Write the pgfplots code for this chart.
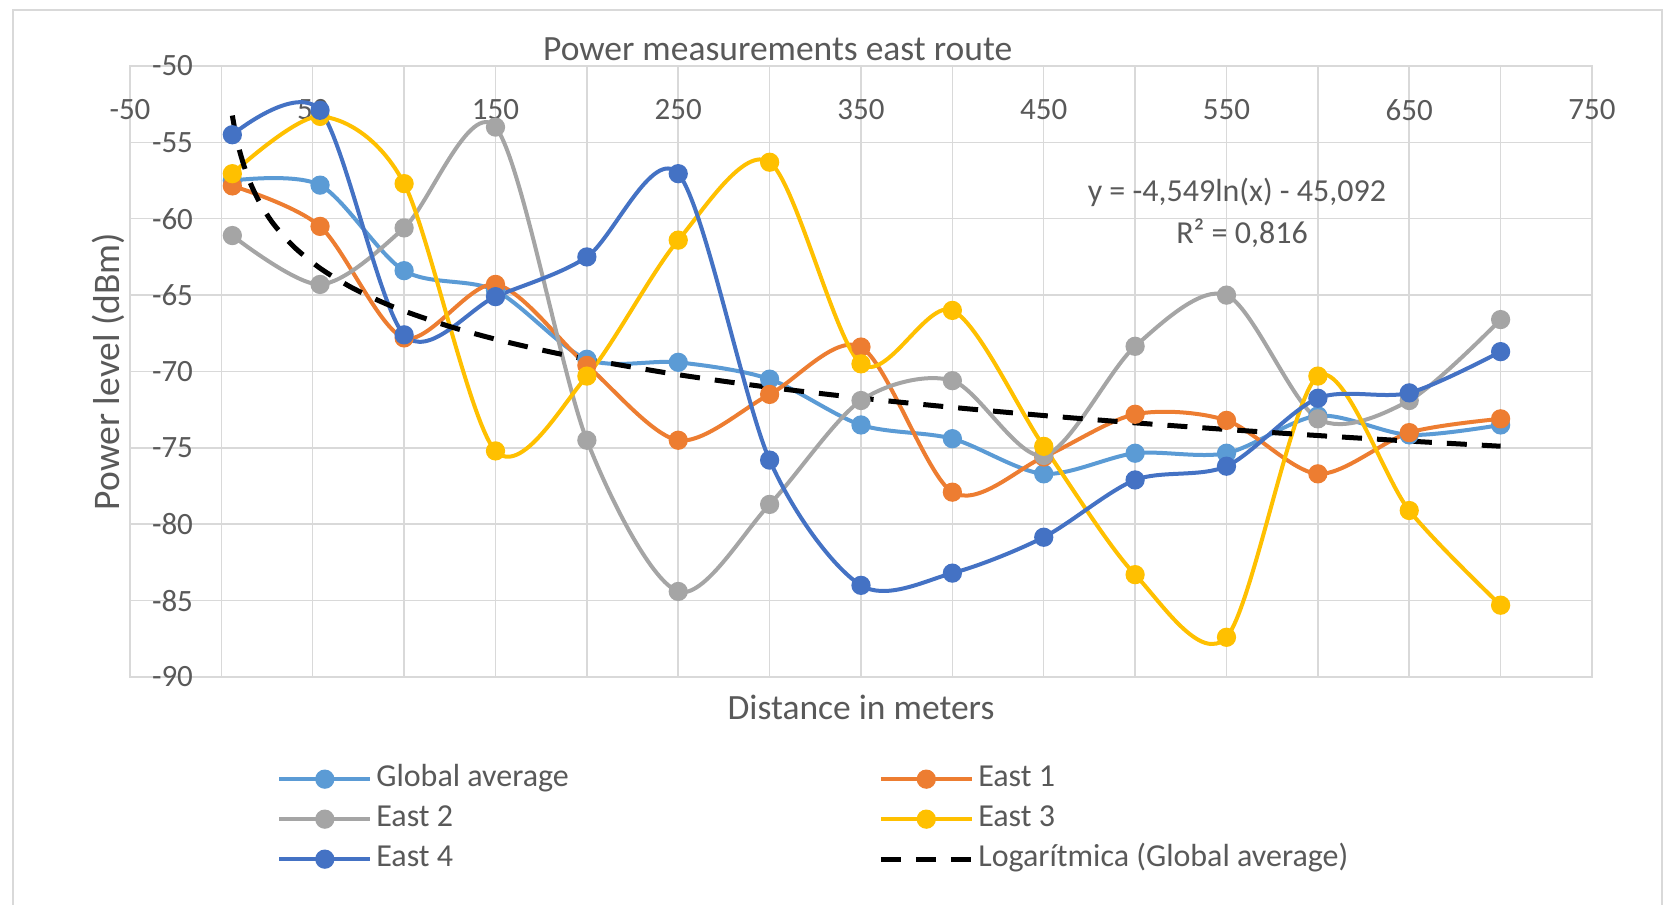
\documentclass[border=0pt]{standalone}
\usepackage{fontspec}
\setmainfont{Carlito}
\usepackage{pgfplots}
\pgfplotsset{compat=1.18}
\definecolor{cGlob}{HTML}{5B9BD5}
\definecolor{cE1}{HTML}{ED7D31}
\definecolor{cE2}{HTML}{A5A5A5}
\definecolor{cE3}{HTML}{FFC000}
\definecolor{cE4}{HTML}{4472C4}
\definecolor{txt}{HTML}{595959}
\definecolor{grd}{HTML}{D9D9D9}
\begin{document}
\begin{tikzpicture}
\begin{axis}[
  scale only axis, width=731pt, height=305.5pt,
  at={(0pt,0pt)}, anchor=south west,
  xmin=-50, xmax=750, ymin=-90, ymax=-50,
  xtick={-50,50,...,750}, minor xtick={0,100,...,700},
  ytick={-90,-85,...,-50},
  grid=both,
  major grid style={grd, line width=0.75pt},
  minor grid style={grd, line width=0.75pt},
  axis line style={grd, line width=0.75pt},
  tick style={draw=none},
  /pgf/number format/assume math mode=true,
  ticklabel style={font=\fontsize{15.5}{18}\selectfont, text=txt},
  xticklabel pos=upper,
  xticklabel style={anchor=center, yshift=-22pt},
  yticklabel style={anchor=east, xshift=35pt},
  title={Power measurements east route},
  title style={font=\fontsize{17.75}{21}\selectfont, text=txt, at={(axis description cs:0.443,1)}, anchor=base, yshift=-3.5pt},
  xlabel={Distance in meters},
  xlabel style={font=\fontsize{17.75}{21}\selectfont, text=txt, at={(axis description cs:0.5,0)}, anchor=base, yshift=-21pt},
  ylabel={Power level (dBm)},
  ylabel style={font=\fontsize{18.75}{21}\selectfont, text=txt, at={(axis description cs:0,0.5)}, anchor=center, yshift=11pt},
  legend columns=2,
  legend cell align=left,
  legend style={at={(axis description cs:0.1005,-0.142)}, anchor=north west, draw=none, fill=none,
    font=\fontsize{16}{18}\selectfont, text=txt, inner sep=0pt, row sep=5pt,
    nodes={inner ysep=0pt, text height=11pt, text depth=4pt}},
  legend image code/.code={\draw[mark repeat=2,mark phase=2] plot coordinates {(0pt,0pt) (22.75pt,0pt) (45.5pt,0pt)};},
  every axis plot/.append style={line width=2pt, mark=*, mark size=3.8pt, smooth},
]
\addplot[cGlob, mark options={solid, fill=cGlob, draw=cGlob}] coordinates {
(6,-57.5) (54,-57.8) (100,-63.4) (150,-64.7) (200,-69.2) (250,-69.4) (300,-70.5) (350,-73.5) (400,-74.4) (450,-76.7) (500,-75.35) (550,-75.35) (600,-72.9) (650,-74.15) (700,-73.5)};
\addlegendentry{\makebox[249pt][l]{Global average}}
\addplot[cE1, mark options={solid, fill=cE1, draw=cE1}] coordinates {
(6,-57.85) (54,-60.5) (100,-67.8) (150,-64.3) (200,-69.6) (250,-74.5) (300,-71.5) (350,-68.4) (400,-77.9) (450,-75.6) (500,-72.8) (550,-73.2) (600,-76.7) (650,-74.0) (700,-73.1)};
\addlegendentry{East 1}
\addplot[cE2, mark options={solid, fill=cE2, draw=cE2}] coordinates {
(6,-61.1) (54,-64.3) (100,-60.6) (150,-54.0) (200,-74.5) (250,-84.4) (300,-78.7) (350,-71.9) (400,-70.6) (450,-75.5) (500,-68.35) (550,-65.0) (600,-73.1) (650,-71.9) (700,-66.6)};
\addlegendentry{\makebox[249pt][l]{East 2}}
\addplot[cE3, mark options={solid, fill=cE3, draw=cE3}] coordinates {
(6,-57.05) (54,-53.3) (100,-57.7) (150,-75.2) (200,-70.3) (250,-61.4) (300,-56.3) (350,-69.5) (400,-66.0) (450,-74.9) (500,-83.3) (550,-87.4) (600,-70.3) (650,-79.1) (700,-85.3)};
\addlegendentry{East 3}
\addplot[cE4, mark options={solid, fill=cE4, draw=cE4}] coordinates {
(6,-54.5) (54,-52.9) (100,-67.6) (150,-65.1) (200,-62.5) (250,-57.05) (300,-75.8) (350,-84.0) (400,-83.2) (450,-80.85) (500,-77.1) (550,-76.2) (600,-71.75) (650,-71.4) (700,-68.7)};
\addlegendentry{\makebox[249pt][l]{East 4}}
\addplot[black, no marks, line width=2.5pt, dash pattern=on 10pt off 7.5pt] coordinates {
(6,-53.243) (8,-54.551) (10,-55.567) (13,-56.760) (16,-57.705) (20,-58.720) (25,-59.735) (30,-60.564) (40,-61.873) (54,-63.238) (70,-64.418) (85,-65.302) (100,-66.041) (125,-67.056) (150,-67.885) (175,-68.587) (200,-69.194) (250,-70.209) (300,-71.039) (350,-71.740) (400,-72.347) (450,-72.883) (500,-73.362) (550,-73.796) (600,-74.192) (650,-74.556) (700,-74.893)};
\addlegendentry{Logarítmica (Global average)}
\node[font=\fontsize{16}{18}\selectfont, text=txt] at (axis cs:555.7,-58.25) {y = -4,549ln(x) - 45,092};
\node[font=\fontsize{16}{18}\selectfont, text=txt] at (axis cs:558.5,-60.93) {R² = 0,816};
\end{axis}
\draw[grd, line width=0.75pt] (-58.5pt,-130pt) rectangle (766pt,333.5pt);
\pgfresetboundingbox
\path[use as bounding box] (-65pt,-114pt) rectangle (771pt,338.5pt);
\end{tikzpicture}
\end{document}
